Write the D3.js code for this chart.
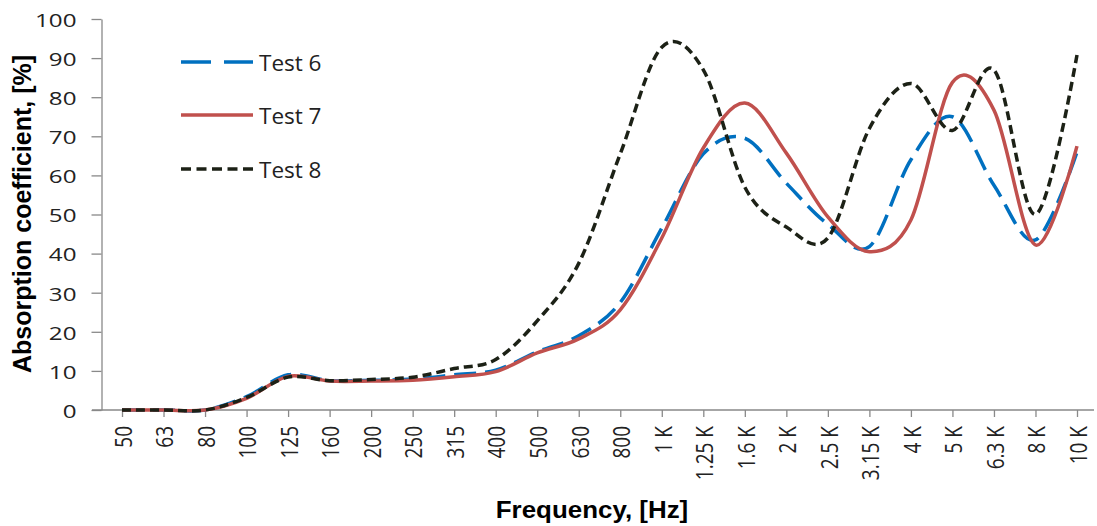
<!DOCTYPE html>
<html>
<head>
<meta charset="utf-8">
<script src="https://cdn.jsdelivr.net/npm/d3@7/dist/d3.min.js"></script>
<style>
  html, body { margin: 0; padding: 0; background: #fff; }
  svg { display: block; }
</style>
</head>
<body>
<svg id="chart" width="1097" height="526"></svg>
<script>
const categories = ["50","63","80","100","125","160","200","250","315","400","500","630","800","1 K","1.25 K","1.6 K","2 K","2.5 K","3.15 K","4 K","5 K","6.3 K","8 K","10 K"];
const test6 = [0,0,0,3.4,9.0,7.5,7.6,7.9,9.0,10.2,14.9,19.0,27.5,46.5,65.5,69.5,58,47.5,41.8,64,75,57.5,43.5,66];
const test7 = [0,0,0,3.0,8.6,7.4,7.4,7.6,8.5,9.8,14.6,18.2,25.6,44,67,78.5,65.7,49.4,40.5,48.6,83.8,76.7,42.2,67.5];
const test8 = [0,0,0,3.2,8.4,7.5,7.8,8.4,10.6,12.9,22.8,37.5,65.5,92.8,87,57,46.8,44,72,83.5,71.5,87,50,90.8];
const seriesNames = ["Test 6","Test 7","Test 8"];
const yTicks = [0,10,20,30,40,50,60,70,80,90,100];

const svg = d3.select("#chart");
const x = d3.scalePoint().domain(categories).range([122, 1077]).padding(0);
const y = d3.scaleLinear().domain([0, 100]).range([410, 19]);

const axisColor = "#898989";
const textColor = "#222222";

// Y axis
const yAxis = d3.axisLeft(y).tickValues(yTicks).tickSize(10).tickSizeOuter(0);
const gy = svg.append("g").attr("transform", "translate(101.5,0)").call(yAxis);
gy.select(".domain").attr("stroke", axisColor).attr("stroke-width", 1.3);
gy.selectAll(".tick line").attr("stroke", axisColor).attr("stroke-width", 1.3);
gy.selectAll(".tick text")
  .attr("x", null).attr("dy", null)
  .attr("text-anchor", "end")
  .attr("dominant-baseline", "central")
  .attr("transform", "translate(-25,0) scale(1.3,1)")
  .style("font-family", "'Open Sans', sans-serif")
  .style("font-size", "18.6px")
  .attr("fill", textColor);

// X axis
const xAxis = d3.axisBottom(x).tickSize(7).tickSizeOuter(0);
const gx = svg.append("g").attr("transform", "translate(0,410)").call(xAxis);
gx.select(".domain").remove();
gx.selectAll(".tick line").attr("stroke", axisColor).attr("stroke-width", 1.3);
gx.selectAll(".tick text")
  .attr("y", null).attr("dy", null)
  .attr("text-anchor", "end")
  .attr("dominant-baseline", "central")
  .attr("transform", "translate(0,16) scale(1.22,1) rotate(-90)")
  .style("font-family", "'Open Sans', sans-serif")
  .style("font-size", "19px")
  .attr("fill", textColor);
svg.append("line")
  .attr("x1", 92).attr("x2", 1094)
  .attr("y1", y(0)).attr("y2", y(0))
  .attr("stroke", axisColor).attr("stroke-width", 1.3);

// Series
const styles = [
  { color: "#0070C0", dash: "22,9", legendDash: "30,13", width: 3.5 },
  { color: "#C0504D", dash: null, legendDash: null, width: 3.5 },
  { color: "#1C2116", dash: "9,5", legendDash: "10,5.5", width: 3.5 }
];
const allSeries = [test6, test7, test8];
const line = d3.line()
  .x((d, i) => x(categories[i]))
  .y(d => y(d))
  .curve(d3.curveCardinal.tension(0));

allSeries.forEach((vals, k) => {
  const p = svg.append("path")
    .datum(vals)
    .attr("d", line)
    .attr("fill", "none")
    .attr("stroke", styles[k].color)
    .attr("stroke-width", styles[k].width)
    .attr("stroke-linejoin", "round");
  if (styles[k].dash) p.attr("stroke-dasharray", styles[k].dash);
});

// Legend
const legendY = [62, 115, 169];
seriesNames.forEach((name, k) => {
  const l = svg.append("line")
    .attr("x1", 181).attr("x2", 253)
    .attr("y1", legendY[k]).attr("y2", legendY[k])
    .attr("stroke", styles[k].color)
    .attr("stroke-width", styles[k].width);
  if (styles[k].legendDash) l.attr("stroke-dasharray", styles[k].legendDash);
  svg.append("text")
    .attr("x", 259).attr("y", legendY[k])
    .attr("dominant-baseline", "central")
    .style("font-family", "'Open Sans', sans-serif")
    .style("font-size", "22.5px")
    .attr("fill", textColor)
    .text(name);
});

// Axis titles
svg.append("text")
  .attr("transform", "translate(31,214) rotate(-90)")
  .attr("text-anchor", "middle")
  .style("font-family", "'Liberation Sans', Arial, sans-serif")
  .style("font-weight", "bold")
  .style("font-size", "25px")
  .attr("fill", "#000")
  .text("Absorption coefficient, [%]");

svg.append("text")
  .attr("transform", "translate(592,518) scale(1.08,1)")
  .attr("text-anchor", "middle")
  .style("font-family", "'Liberation Sans', Arial, sans-serif")
  .style("font-weight", "bold")
  .style("font-size", "24px")
  .attr("fill", "#000")
  .text("Frequency, [Hz]");
</script>
</body>
</html>
